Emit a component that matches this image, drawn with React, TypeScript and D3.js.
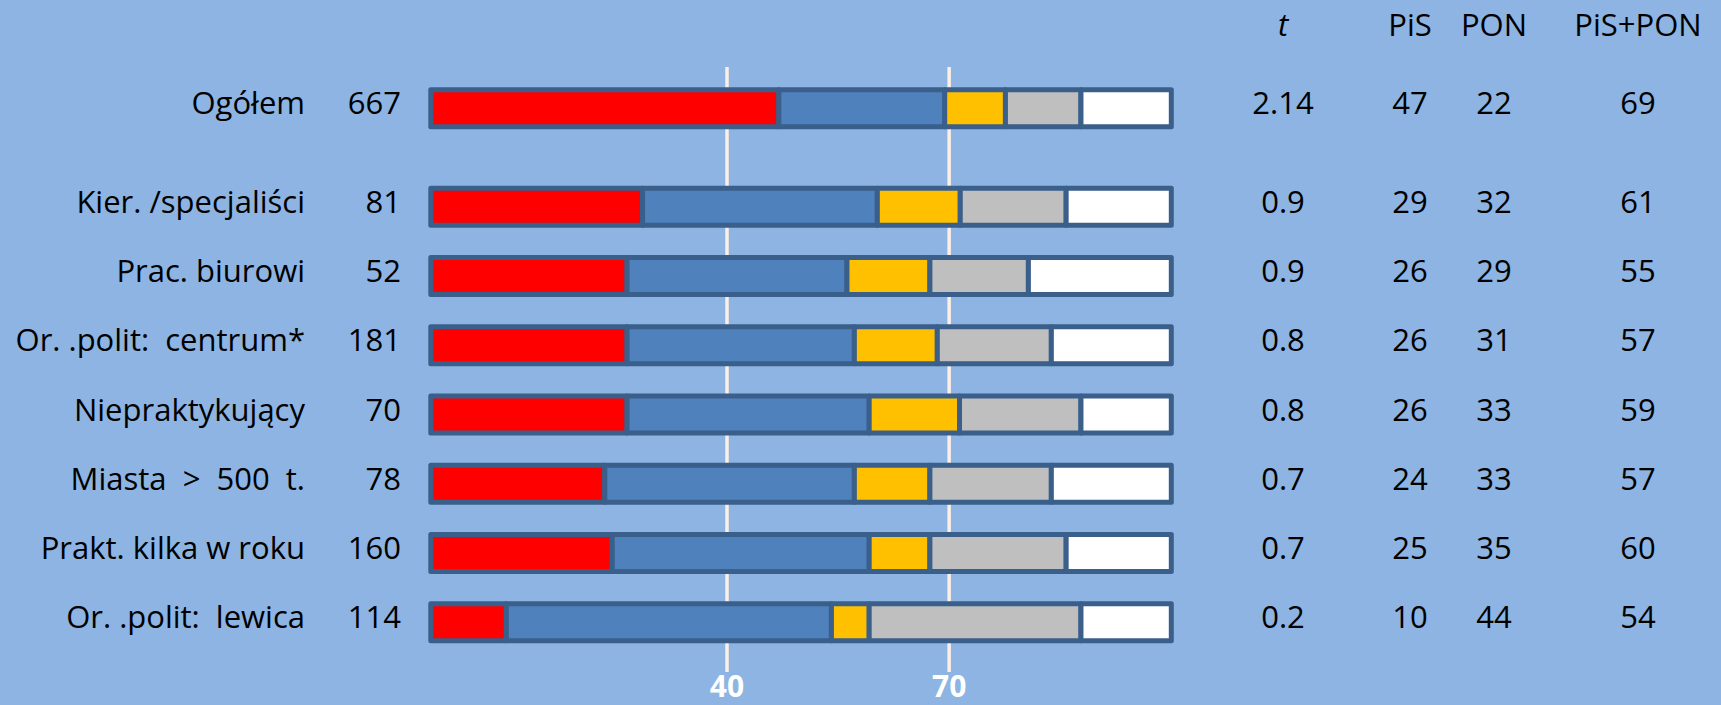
import * as d3 from "d3";

const W = 1721;
const H = 705;

// rows, top to bottom
const categories = [
  "Ogółem",
  "Kier. /specjaliści",
  "Prac. biurowi",
  "Or. .polit:  centrum*",
  "Niepraktykujący",
  "Miasta  >  500  t.",
  "Prakt. kilka w roku",
  "Or. .polit:  lewica",
];
const sampleN = [667, 81, 52, 181, 70, 78, 160, 114];
const tStat = ["2.14", "0.9", "0.9", "0.8", "0.8", "0.7", "0.7", "0.2"];

// printed table values
const pisPct = [47, 29, 26, 26, 26, 24, 25, 10];
const ponPct = [22, 32, 29, 31, 33, 33, 35, 44];

// bar segments as drawn (unrounded shares, %)
const pisBar = [47.0, 28.6, 26.5, 26.5, 26.5, 23.5, 24.5, 10.2];
const ponBar = [22.4, 31.7, 29.7, 30.7, 32.7, 33.7, 34.7, 43.9];
const yellowBar = [8.2, 11.2, 11.2, 11.2, 12.2, 10.2, 8.2, 5.1];
const grayBar = [10.2, 14.3, 13.3, 15.4, 16.4, 16.4, 18.4, 28.6];
const whiteBar = [12.2, 14.2, 19.3, 16.2, 12.2, 16.2, 14.2, 12.2];

const segKeys = ["pis", "pon", "yellow", "gray", "white"];
const segColors: Record<string, string> = {
  pis: "#FF0000",
  pon: "#4F81BD",
  yellow: "#FFC000",
  gray: "#BFBFBF",
  white: "#FFFFFF",
};

const gridTicks = [40, 70];
const columnHeaders = ["t", "PiS", "PON", "PiS+PON"];

const BG = "#8DB4E2";
const OUTLINE = "#3A5F8B";
const FONT = "'Open Sans', sans-serif";

export default function App() {
  const x = d3.scaleLinear().domain([0, 100]).range([430.8, 1171.3]);

  // sub-group rows evenly spaced, "Ogółem" pushed up by a group gap
  const step = (622.3 - 206.7) / 6;
  const yPoint = d3.scalePoint<string>().domain(categories).range([206.7 - step, 622.3]);
  const GROUP_GAP = 29.1;
  const rowY = (i: number) => (yPoint(categories[i]) ?? 0) - (i === 0 ? GROUP_GAP : 0);

  const rows = categories.map((c, i) => ({
    cat: c,
    pis: pisBar[i],
    pon: ponBar[i],
    yellow: yellowBar[i],
    gray: grayBar[i],
    white: whiteBar[i],
  }));
  const series = d3.stack<any>().keys(segKeys)(rows);

  const BAR_H = 37;
  const colX = [1283, 1410, 1494, 1638];
  const textDy = 6;

  return (
    <svg
      width={W}
      height={H}
      style={{ position: "absolute", left: 0, top: 0, display: "block" }}
      fontFamily={FONT}
    >
      <rect width={W} height={H} fill={BG} />

      {/* grid lines */}
      {gridTicks.map((t) => (
        <g key={t}>
          <line x1={x(t)} x2={x(t)} y1={67} y2={672} stroke="#FBEFE6" strokeWidth={3.5} />
          <text x={x(t)} y={697} textAnchor="middle" fill="#FFFFFF" fontWeight="bold" fontSize={30}>
            {t}
          </text>
        </g>
      ))}

      {/* bars */}
      {series.map((s) => (
        <g key={s.key}>
          {s.map((d, i) => (
            <rect
              key={i}
              x={x(d[0])}
              y={rowY(i) - BAR_H / 2}
              width={x(d[1]) - x(d[0])}
              height={BAR_H}
              fill={segColors[s.key]}
              stroke={OUTLINE}
              strokeWidth={5}
              strokeLinejoin="round"
            />
          ))}
        </g>
      ))}

      {/* left labels */}
      {categories.map((c, i) => (
        <g key={c} fontSize={31} fill="#000">
          <text x={305} y={rowY(i) + textDy} textAnchor="end" style={{ whiteSpace: "pre" }}>
            {c}
          </text>
          <text x={401} y={rowY(i) + textDy} textAnchor="end">
            {sampleN[i]}
          </text>
        </g>
      ))}

      {/* right table */}
      {columnHeaders.map((h, j) => (
        <text
          key={h}
          x={colX[j]}
          y={36}
          textAnchor="middle"
          fontSize={31}
          fontStyle={j === 0 ? "italic" : "normal"}
        >
          {h}
        </text>
      ))}
      {categories.map((c, i) => (
        <g key={c} fontSize={31} textAnchor="middle">
          <text x={colX[0]} y={rowY(i) + textDy}>{tStat[i]}</text>
          <text x={colX[1]} y={rowY(i) + textDy}>{pisPct[i]}</text>
          <text x={colX[2]} y={rowY(i) + textDy}>{ponPct[i]}</text>
          <text x={colX[3]} y={rowY(i) + textDy}>{pisPct[i] + ponPct[i]}</text>
        </g>
      ))}
    </svg>
  );
}
